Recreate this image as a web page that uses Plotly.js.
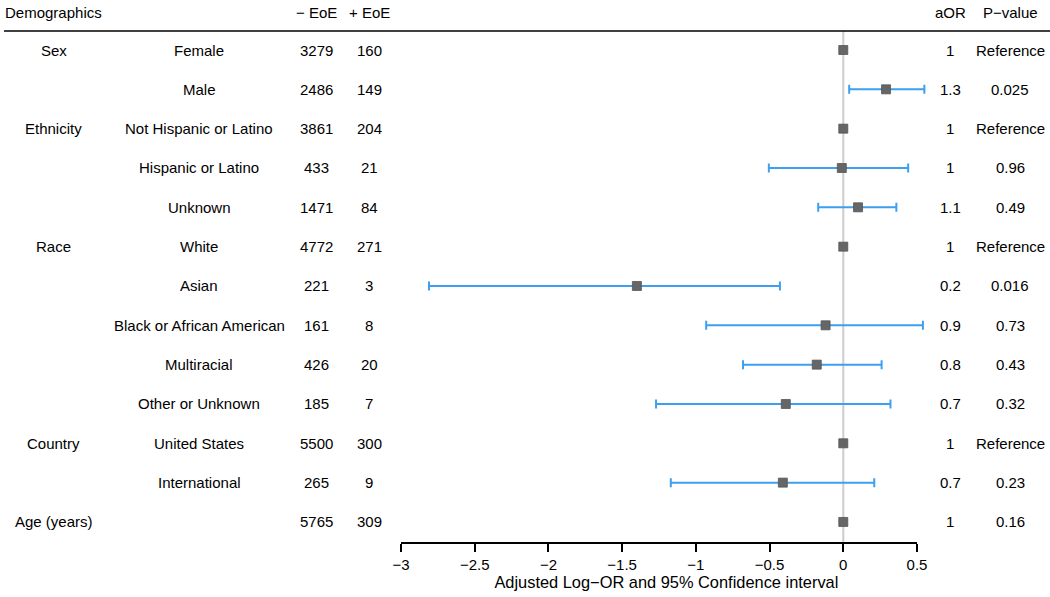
<!DOCTYPE html>
<html>
<head>
<meta charset="utf-8">
<script src="https://cdn.plot.ly/plotly-3.0.1.min.js"></script>
<style>
  html, body { margin: 0; padding: 0; background: #fff; }
  #chart { width: 1050px; height: 597px; }
</style>
</head>
<body>
<div id="chart"></div>
<script>
// Table columns
const groups    = ['Sex', '', 'Ethnicity', '', '', 'Race', '', '', '', '', 'Country', '', 'Age (years)'];
const subgroups = ['Female', 'Male', 'Not Hispanic or Latino', 'Hispanic or Latino', 'Unknown',
                   'White', 'Asian', 'Black or African American', 'Multiracial', 'Other or Unknown',
                   'United States', 'International', ''];
const negEoE    = [3279, 2486, 3861, 433, 1471, 4772, 221, 161, 426, 185, 5500, 265, 5765];
const posEoE    = [160, 149, 204, 21, 84, 271, 3, 8, 20, 7, 300, 9, 309];
const aOR       = ['1', '1.3', '1', '1', '1.1', '1', '0.2', '0.9', '0.8', '0.7', '1', '0.7', '1'];
const pValue    = ['Reference', '0.025', 'Reference', '0.96', '0.49', 'Reference', '0.016', '0.73',
                   '0.43', '0.32', 'Reference', '0.23', '0.16'];

// Adjusted log-OR and 95% CI (null = reference level, no interval drawn)
const logOR  = [0, 0.29, 0, -0.01, 0.10, 0, -1.40, -0.12, -0.18, -0.39, 0, -0.41, 0];
const ciLow  = [null, 0.04, null, -0.505, -0.17, null, -2.81, -0.93, -0.68, -1.27, null, -1.17, null];
const ciHigh = [null, 0.55, null, 0.44, 0.36, null, -0.43, 0.54, 0.26, 0.32, null, 0.21, null];

const xTicks = [-3, -2.5, -2, -1.5, -1, -0.5, 0, 0.5];

const W = 1050, H = 597;
const rowPx = 39.33;      // pixel spacing of rows
const firstRowPx = 50;    // pixel y of first row
const axisPx = 543;       // pixel y of x axis line
const yTop = 1 - firstRowPx / rowPx;
const yBottom = yTop + axisPx / rowPx;

// x scale: -3 at 401px, 0.5 at 917px; range padded right so CI caps are not clipped
const xMin = -3, xMax = 0.5, xPad = 0.1;
const pxPerUnit = (917 - 401) / (xMax - xMin);
const xRight = 401 + (xMax + xPad - xMin) * pxPerUnit;

const rows = subgroups.map((_, i) => i + 1);
const font = { family: 'Liberation Sans, Arial, sans-serif', size: 15, color: '#000' };

// rows with an interval vs reference rows
const ciIdx  = rows.map((r, i) => i).filter(i => ciLow[i] !== null);
const refIdx = rows.map((r, i) => i).filter(i => ciLow[i] === null);

const markerStyle = { symbol: 'square', size: 9, color: '#666666', line: { color: '#555555', width: 0.8 } };

const traces = [
  {
    type: 'scatter', mode: 'markers',
    x: ciIdx.map(i => logOR[i]),
    y: ciIdx.map(i => rows[i]),
    marker: markerStyle,
    error_x: {
      type: 'data', symmetric: false,
      array: ciIdx.map(i => ciHigh[i] - logOR[i]),
      arrayminus: ciIdx.map(i => logOR[i] - ciLow[i]),
      color: '#3d9ff0', thickness: 2, width: 4.5
    },
    cliponaxis: false,
    hoverinfo: 'x+y', showlegend: false
  },
  {
    type: 'scatter', mode: 'markers',
    x: refIdx.map(i => logOR[i]),
    y: refIdx.map(i => rows[i]),
    marker: markerStyle,
    cliponaxis: false,
    hoverinfo: 'x+y', showlegend: false
  }
];

// column x positions (px) for the text table
const colX = { group: 53.5, sub: 199, neg: 316, pos: 369, aor: 950, p: 1010 };
const annotations = [];
function addText(text, xpx, row, anchor) {
  annotations.push({
    text: text, xref: 'paper', yref: 'y', x: xpx / W, y: row,
    xanchor: anchor || 'center', yanchor: 'middle', showarrow: false, font: font
  });
}
rows.forEach((r, i) => {
  if (groups[i]) addText(groups[i], colX.group, r);
  if (subgroups[i]) addText(subgroups[i], colX.sub, r);
  addText(String(negEoE[i]), colX.neg, r);
  addText(String(posEoE[i]), colX.pos, r);
  addText(aOR[i], colX.aor, r);
  addText(pValue[i], colX.p, r);
});
// header
const headerRow = yTop + 12 / rowPx;
addText('Demographics', 3, headerRow, 'left');
addText('\u2212 EoE', colX.neg, headerRow);
addText('+ EoE', colX.pos, headerRow);
addText('aOR', colX.aor, headerRow);
addText('P\u2212value', colX.p, headerRow);

const ruleY = (H - 31) / H;
const axisY = (H - axisPx) / H;
const shapes = [
  { type: 'line', xref: 'paper', yref: 'paper', x0: 4 / W, x1: 1, y0: ruleY, y1: ruleY,
    line: { color: '#000', width: 1.7 } },
  { type: 'line', xref: 'x', yref: 'paper', x0: 0, x1: 0, y0: axisY, y1: ruleY,
    line: { color: '#cccccc', width: 2 }, layer: 'below' },
  // x axis line, only from -3 to 0.5
  { type: 'line', xref: 'x', yref: 'paper', x0: xMin, x1: xMax, y0: axisY, y1: axisY,
    line: { color: '#000', width: 2 } }
];

const layout = {
  width: W, height: H,
  margin: { l: 0, r: 0, t: 0, b: 0 },
  paper_bgcolor: '#fff', plot_bgcolor: '#fff',
  font: font,
  showlegend: false,
  xaxis: {
    domain: [401 / W, xRight / W],
    range: [xMin, xMax + xPad],
    tickvals: xTicks,
    ticktext: xTicks.map(v => (v < 0 ? '\u2212' : '') + Math.abs(v)),
    ticks: 'outside', ticklen: 8, tickwidth: 2, tickcolor: '#000',
    showline: false,
    showgrid: false, zeroline: false,
    tickfont: font,
    title: { text: 'Adjusted Log\u2212OR and 95% Confidence interval',
             font: { family: font.family, size: 16.4, color: '#000' }, standoff: 2 }
  },
  yaxis: {
    domain: [axisY, 1],
    range: [yBottom, yTop],
    showgrid: false, zeroline: false, showline: false,
    showticklabels: false, ticks: ''
  },
  shapes: shapes,
  annotations: annotations
};

Plotly.newPlot('chart', traces, layout, { displayModeBar: false, staticPlot: true });
</script>
</body>
</html>
